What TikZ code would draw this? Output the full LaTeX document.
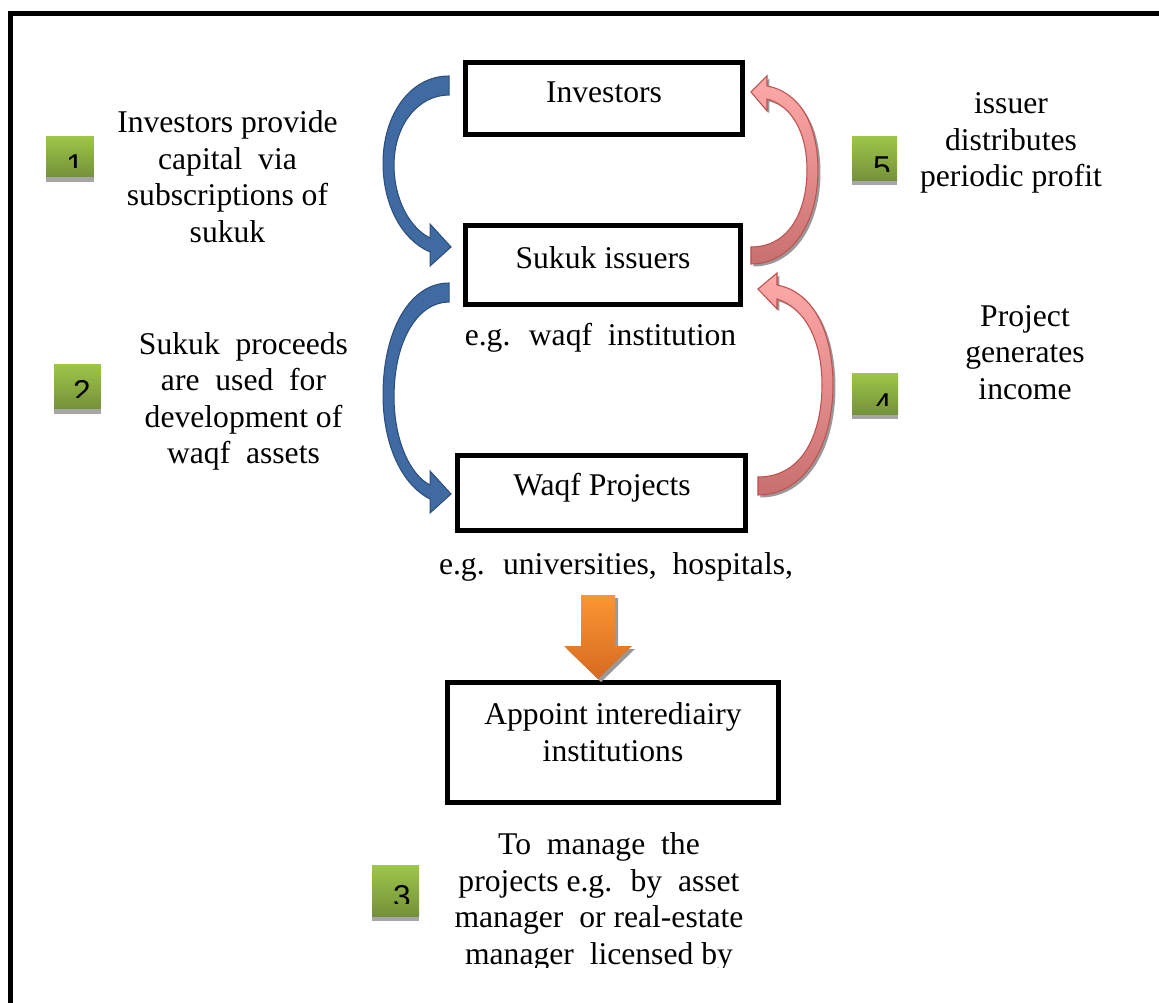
\documentclass[tikz,border=0pt]{standalone}
\usepackage{fontspec}
\setmainfont{Liberation Serif}
\newfontfamily\numfont{Liberation Sans}
\usetikzlibrary{shadows}
\definecolor{arrowblue}{RGB}{64,106,162}
\definecolor{arrowblueline}{RGB}{45,78,124}
\definecolor{arrowredtop}{RGB}{255,170,170}
\definecolor{arrowredbot}{RGB}{200,112,112}
\definecolor{arrowredline}{RGB}{192,80,77}
\definecolor{arroworangetop}{RGB}{250,150,50}
\definecolor{arroworangebot}{RGB}{214,106,32}
\definecolor{numtop}{RGB}{158,198,72}
\definecolor{numbot}{RGB}{116,145,58}
\definecolor{numgrey}{RGB}{166,166,166}
\tikzset{
  outerframe/.style={draw=black, line width=0.1cm},
  box/.style={draw=black, line width=0.1cm, fill=white, inner sep=0pt},
  txt/.style={align=center, inner sep=0pt, font=\fontsize{18}{20.8}\selectfont},
  numbox/.style={top color=numtop, bottom color=numbot, inner sep=0pt},
  numshade/.style={fill=numgrey},
  numtxt/.style={anchor=base, inner sep=0pt, font=\numfont\fontsize{18}{18}\selectfont},
  bluearrow/.style={fill=arrowblue, draw=arrowblueline, line width=0.6pt},
  redarrow/.style={top color=arrowredtop, bottom color=arrowredbot, draw=arrowredline, line width=0.6pt,
    drop shadow={shadow xshift=0.05cm, shadow yshift=-0.05cm, fill=black!40, opacity=1}},
  orangearrow/.style={top color=arroworangetop, bottom color=arroworangebot,
    drop shadow={shadow xshift=0.06cm, shadow yshift=-0.06cm, fill=black!40, opacity=1}}
}
\begin{document}
\begin{tikzpicture}[x=0.02cm, y=-0.02cm]
\useasboundingbox (0,0) rectangle (1159,1003);
\draw[outerframe] (10.5,1003) -- (10.5,13.5) -- (1159,13.5);

\node[box, minimum width=5.54cm, minimum height=1.44cm] (inv) at (604,98.5) {};
\node[box, minimum width=5.5cm, minimum height=1.58cm] (suk) at (603,265) {};
\node[box, minimum width=5.76cm, minimum height=1.5cm] (waqf) at (601.5,493) {};
\node[box, minimum width=6.62cm, minimum height=2.4cm] (app) at (613,742.5) {};

\node[txt] (tinv) at (604,92) {Investors};
\node[txt] (tsuk) at (603,258) {Sukuk issuers};
\node[txt] (tsukeg) at (600.5,338) {e.g.~ waqf~ institution};
\node[txt] (twaqf) at (602,488) {Waqf Projects};
\node[txt] (twaqfeg) at (616,567) {e.g.~ universities,~ hospitals,};
\node[txt] (tapp) at (613,732) {Appoint interediairy\\institutions};

\node[txt] (step1) at (227.5,176.5) {Investors provide\\capital~ via\\subscriptions of\\sukuk};
\node[txt] (step2) at (243.5,401.5) {Sukuk~ proceeds\\are~ used~ for\\development of\\waqf~ assets};
\node[txt] (step5) at (1011,143) {issuer\\distributes\\periodic profit};
\node[txt] (step4) at (1025,352.5) {Project\\generates\\income};
\begin{scope}
\clip (0,0) rectangle (1159,967);
\node[txt] (step3) at (599,902) {To~ manage~ the\\projects e.g.~ by~ asset\\manager~ or real-estate\\manager~ licensed by};
\end{scope}

\fill[numshade] (46,177) rectangle (94,182);
\node[numbox, minimum width=0.96cm, minimum height=0.82cm] (n1) at (70,156.5) {};
\begin{scope}
\clip (46,136) rectangle (94,168);
\node[numtxt] (d1) at (75,177) {1};
\end{scope}
\fill[numshade] (54,409) rectangle (101,414);
\node[numbox, minimum width=0.94cm, minimum height=0.9cm] (n2) at (77.5,386.5) {};
\begin{scope}
\clip (54,364) rectangle (101,397);
\node[numtxt] (d2) at (82,402) {2};
\end{scope}
\fill[numshade] (372,916) rectangle (419,921);
\node[numbox, minimum width=0.94cm, minimum height=1.02cm] (n3) at (395.5,890.5) {};
\begin{scope}
\clip (372,865) rectangle (419,903);
\node[numtxt] (d3) at (402,907) {3};
\end{scope}
\fill[numshade] (852,415) rectangle (898,419);
\node[numbox, minimum width=0.92cm, minimum height=0.84cm] (n4) at (875,394) {};
\begin{scope}
\clip (852,373) rectangle (898,405);
\node[numtxt] (d4) at (883,415) {4};
\end{scope}
\fill[numshade] (852,181) rectangle (897,185);
\node[numbox, minimum width=0.9cm, minimum height=0.9cm] (n5) at (874.5,158.5) {};
\begin{scope}
\clip (852,136) rectangle (897,172);
\node[numtxt] (d5) at (882,179) {5};
\end{scope}

\begin{scope}[shift={(inv.west)}]
\path[bluearrow] (-14,-22.5) .. controls (-53,-22.5) and (-80,16.5) .. (-80,64.5) .. controls (-80,106.5) and (-61,141.5) .. (-33,153.5) -- (-33,167.5) -- (-12,148.5) -- (-33,125.5) -- (-33,139.5) .. controls (-53,129.5) and (-69,101.5) .. (-69,66.5) .. controls (-69,26.5) and (-45,-3.5) .. (-14,-3.5) -- cycle;
\end{scope}
\begin{scope}[shift={(suk.west)}]
\path[bluearrow] (-14,18) .. controls (-53,18) and (-80,65) .. (-80,130) .. controls (-80,180) and (-61,220) .. (-33,234) -- (-33,248) -- (-12,229) -- (-33,206) -- (-33,220) .. controls (-53,210) and (-69,175) .. (-69,132) .. controls (-69,75) and (-45,37) .. (-14,37) -- cycle;
\end{scope}
\begin{scope}[shift={(suk.east)}]
\path[redarrow] (8,-18) .. controls (47,-18) and (64,-55) .. (64,-95) .. controls (64,-135) and (47,-160) .. (24,-166) -- (24,-154) -- (8,-173) -- (24,-189) -- (24,-179) .. controls (57,-173) and (75,-140) .. (75,-95) .. controls (75,-40) and (47,-1) .. (8,-1) -- cycle;
\end{scope}
\begin{scope}[shift={(waqf.east)}]
\path[redarrow] (10,-16) .. controls (57,-16) and (74,-63) .. (74,-108) .. controls (74,-153) and (57,-185) .. (29,-194) -- (29,-184) -- (10,-204) -- (29,-220) -- (29,-208) .. controls (67,-201) and (85,-158) .. (85,-108) .. controls (85,-48) and (57,2) .. (10,2) -- cycle;
\end{scope}
\begin{scope}[shift={(app.north)}]
\path[orangearrow] (-32,-85) -- (2,-85) -- (2,-34) -- (19,-34) -- (-15,-1) -- (-49,-34) -- (-32,-34) -- cycle;
\end{scope}
\end{tikzpicture}
\end{document}
